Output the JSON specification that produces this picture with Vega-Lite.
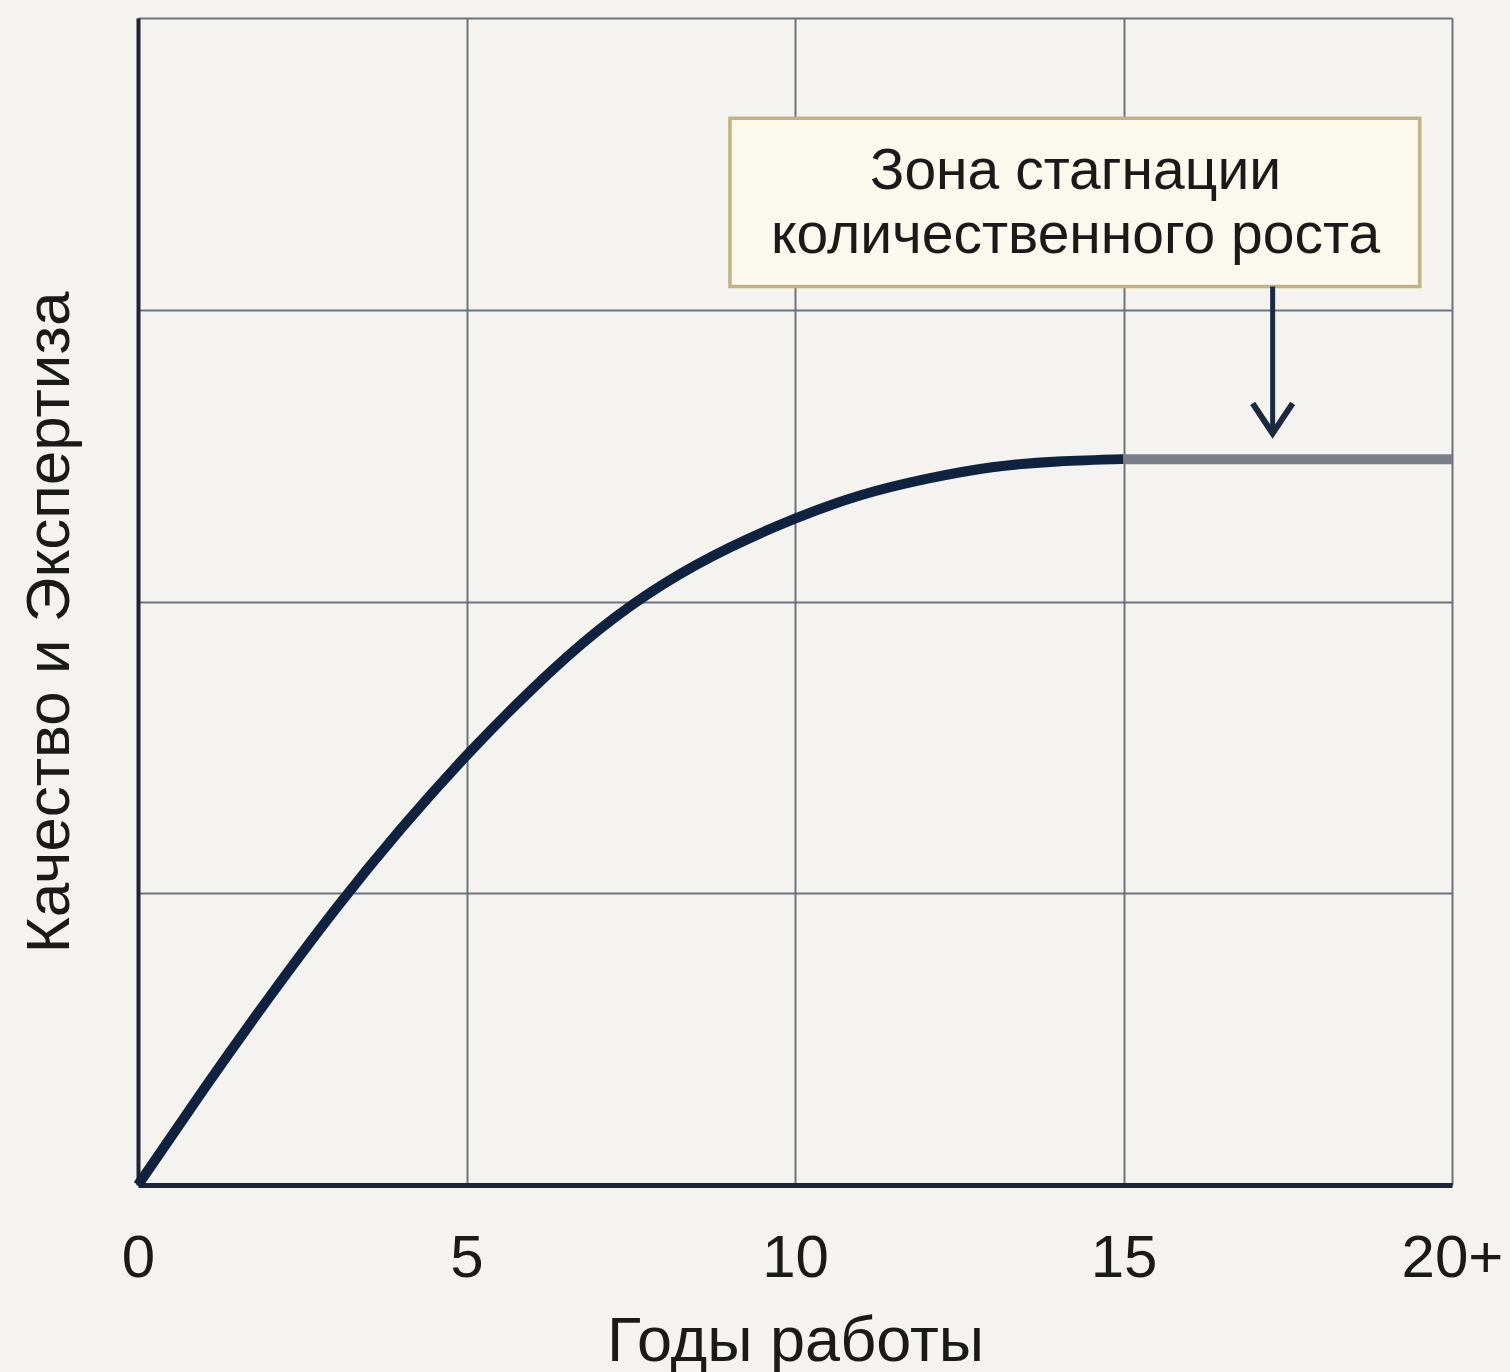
{
  "$schema": "https://vega.github.io/schema/vega-lite/v6.json",
  "width": 1314,
  "height": 1167,
  "autosize": {"type": "none"},
  "padding": {"left": 138, "top": 18, "right": 58, "bottom": 187},
  "background": "#f4f3ef",
  "config": {"view": {"stroke": null}, "font": "Liberation Sans"},
  "datasets": {
    "curve": [
      {"years": 0, "value": 0},
      {"years": 1, "value": 8.2},
      {"years": 2, "value": 16.1},
      {"years": 3, "value": 23.6},
      {"years": 4, "value": 30.5},
      {"years": 5, "value": 36.8},
      {"years": 6, "value": 42.5},
      {"years": 7, "value": 47.5},
      {"years": 8, "value": 51.5},
      {"years": 9, "value": 54.6},
      {"years": 10, "value": 57.1},
      {"years": 11, "value": 59.1},
      {"years": 12, "value": 60.5},
      {"years": 13, "value": 61.5},
      {"years": 14, "value": 62.0},
      {"years": 15, "value": 62.2}
    ],
    "plateau": [
      {"years": 15, "value": 62.2},
      {"years": 20, "value": 62.2}
    ]
  },
  "layer": [
    {
      "data": {"name": "curve"},
      "mark": {"type": "line", "color": "#0f2340", "strokeWidth": 10, "interpolate": "natural", "strokeCap": "butt"},
      "encoding": {
        "x": {
          "field": "years", "type": "quantitative",
          "scale": {"domain": [0, 20], "nice": false},
          "axis": {
            "values": [0, 5, 10, 15, 20],
            "labelExpr": "datum.value == 20 ? '20+' : format(datum.value, 'd')",
            "labelFontSize": 60, "labelColor": "#1a1a1a", "labelPadding": 44,
            "labelFlush": false, "labelOverlap": false, "labelBound": false,
            "ticks": false, "tickSize": 0,
            "domain": true, "domainColor": "#1b2535", "domainWidth": 5,
            "grid": true, "gridColor": "#6b7280", "gridWidth": 2,
            "title": "Годы работы", "titleFontSize": 63, "titleFontWeight": "normal",
            "titleColor": "#1a1a1a", "titleBaseline": "alphabetic", "titleY": 175
          }
        },
        "y": {
          "field": "value", "type": "quantitative",
          "scale": {"domain": [0, 100], "nice": false},
          "axis": {
            "values": [0, 25, 50, 75, 100],
            "labels": false, "ticks": false, "tickSize": 0,
            "domain": true, "domainColor": "#1e2532", "domainWidth": 4,
            "grid": true, "gridColor": "#6b7280", "gridWidth": 2,
            "title": "Качество и Экспертиза", "titleFontSize": 62, "titleFontWeight": "normal",
            "titleColor": "#1a1a1a", "titleBaseline": "alphabetic", "titleAngle": -90,
            "titleX": -70, "titleY": 604, "titleAlign": "center"
          }
        }
      }
    },
    {
      "data": {"name": "plateau"},
      "mark": {"type": "line", "color": "#7a8089", "strokeWidth": 10},
      "encoding": {
        "x": {"field": "years", "type": "quantitative"},
        "y": {"field": "value", "type": "quantitative"}
      }
    },
    {
      "data": {"values": [{}]},
      "mark": {"type": "rect", "fill": "#fbf8ee", "stroke": "#c4b283", "strokeWidth": 3.5},
      "encoding": {
        "x": {"datum": 9.01, "type": "quantitative"},
        "x2": {"datum": 19.51},
        "y": {"datum": 91.4, "type": "quantitative"},
        "y2": {"datum": 77.0}
      }
    },
    {
      "data": {"values": [{}]},
      "mark": {
        "type": "text",
        "text": ["Зона стагнации", "количественного роста"],
        "fontSize": 57, "lineHeight": 64, "align": "center", "baseline": "middle",
        "color": "#1a1a1a"
      },
      "encoding": {
        "x": {"datum": 14.27, "type": "quantitative"},
        "y": {"datum": 86.8, "type": "quantitative"}
      }
    },
    {
      "data": {"values": [{}]},
      "mark": {"type": "rule", "color": "#1b2a40", "strokeWidth": 5},
      "encoding": {
        "x": {"datum": 17.27, "type": "quantitative"},
        "y": {"datum": 77.0, "type": "quantitative"},
        "y2": {"datum": 64.6}
      }
    },
    {
      "data": {"values": [{}]},
      "mark": {
        "type": "point", "shape": "M-1,-1.5L0,0L1,-1.5", "size": 1600,
        "filled": false, "stroke": "#1b2a40", "strokeWidth": 6, "strokeJoin": "miter", "opacity": 1
      },
      "encoding": {
        "x": {"datum": 17.27, "type": "quantitative"},
        "y": {"datum": 64.4, "type": "quantitative"}
      }
    }
  ]
}
